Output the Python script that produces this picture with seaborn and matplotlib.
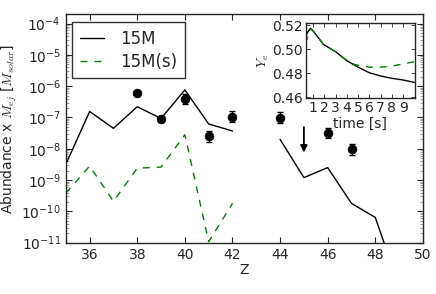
import numpy as np
import pandas as pd
import matplotlib
matplotlib.use("Agg")
import matplotlib.pyplot as plt
import seaborn as sns

# ---- data ----
z_15m = [35, 36, 37, 38, 39, 40, 41, 42, 43, 44, 45, 46, 47, 48, 49]
ab_15m = [3.2e-9, 1.55e-7, 4.5e-8, 2.2e-7, 9.3e-8, 7.6e-7, 6.2e-8, 3.7e-8,
          np.nan, 2.0e-8, 1.2e-9, 2.5e-9, 1.8e-10, 6.4e-11, 4e-13]
z_15ms = [35, 36, 37, 38, 39, 40, 41, 42]
ab_15ms = [3.8e-10, 2.8e-9, 2.1e-10, 2.4e-9, 2.6e-9, 2.8e-8, 1.07e-11, 1.8e-10]

obs_z = [38, 39, 40, 41, 42, 44, 46, 47]
obs_ab = [5.9e-7, 8.9e-8, 3.9e-7, 2.5e-8, 1.07e-7, 9.8e-8, 3.2e-8, 9.5e-9]
obs_err_dex = [0.08, 0.08, 0.15, 0.17, 0.17, 0.17, 0.17, 0.17]

lim_z = 45
lim_top = 4.9e-8
lim_tip = 7.6e-9

t_inset = [0.33, 0.5, 0.77, 1.0, 1.5, 1.9, 3.0, 4.0, 5.0, 6.0, 7.0, 8.0, 9.0, 10.0]
ye_15m = [0.5100, 0.5140, 0.5173, 0.5150, 0.5090, 0.5040, 0.4978, 0.4904,
          0.4850, 0.4804, 0.4777, 0.4758, 0.4744, 0.4724]
t_inset_s = [0.33, 0.5, 0.8, 1.0, 1.5, 1.9, 3.0, 4.0, 4.6, 5.0, 6.0, 7.0, 8.0, 9.0, 10.0]
ye_15ms = [0.5050, 0.5100, 0.5165, 0.5150, 0.5090, 0.5040, 0.4978, 0.4904,
           0.4875, 0.4866, 0.4850, 0.4850, 0.4860, 0.4877, 0.4896]

# ---- style ----
sns.set_style("ticks", {"xtick.direction": "in", "ytick.direction": "in"})
plt.rcParams["font.family"] = ["DejaVu Sans"]
plt.rcParams["mathtext.fontset"] = "cm"
plt.rcParams["xtick.top"] = True
plt.rcParams["ytick.right"] = True
plt.rcParams["axes.linewidth"] = 1.0

fig = plt.figure(figsize=(4.36, 2.94), dpi=100)
ax = fig.add_axes([0.151, 0.1745, 0.819, 0.7775])

# split solid line into segments at NaN
df = pd.DataFrame({"Z": z_15m, "ab": ab_15m})
df["seg"] = df["ab"].isna().cumsum()
df = df.dropna()
first = True
for _, g in df.groupby("seg"):
    sns.lineplot(x=g["Z"], y=g["ab"], ax=ax, color="k", lw=1.0,
                 label="15M" if first else None, legend=False)
    first = False

dfs = pd.DataFrame({"Z": z_15ms, "ab": ab_15ms})
sns.lineplot(data=dfs, x="Z", y="ab", ax=ax, color="g", lw=1.0,
             linestyle=(0, (5, 5)), label="15M(s)", legend=False)

obs_ab_a = np.array(obs_ab)
err = np.array(obs_err_dex)
lower = obs_ab_a - obs_ab_a / 10 ** err
upper = obs_ab_a * 10 ** err - obs_ab_a
ax.errorbar(obs_z, obs_ab_a, yerr=[lower, upper], fmt="none", ecolor="k",
            elinewidth=1.0, capsize=2.5, capthick=1.0)
sns.scatterplot(x=obs_z, y=obs_ab, ax=ax, color="k", s=40, edgecolor="k",
                zorder=5, legend=False)
ax.annotate("", xy=(lim_z, lim_tip), xytext=(lim_z, lim_top),
            arrowprops=dict(arrowstyle="-|>", color="k", lw=1.3,
                            mutation_scale=10, shrinkA=0, shrinkB=0))

ax.set_yscale("log")
ax.set_xlim(35, 50)
ax.set_ylim(1e-11, 2e-4)
ax.set_xticks([36, 38, 40, 42, 44, 46, 48, 50])
ax.set_yticks([1e-11, 1e-10, 1e-9, 1e-8, 1e-7, 1e-6, 1e-5, 1e-4])
ax.tick_params(axis="both", which="major", labelsize=10, length=4, width=0.8,
               direction="in", top=True, right=True)
ax.tick_params(axis="y", which="minor", length=2, width=0.5, direction="in",
               right=True, color="0.5")
ax.set_xlabel("Z", fontsize=10, labelpad=1)
ax.set_ylabel(r"Abundance x $M_{ej}$ [$M_{solar}$]", fontsize=10, labelpad=2)

handles, labels = ax.get_legend_handles_labels()
leg = ax.legend(handles, labels, loc="upper left", fontsize=12,
                frameon=True, fancybox=False, edgecolor="k",
                handlelength=1.45, handletextpad=1.0, borderpad=0.45,
                labelspacing=0.3, borderaxespad=0,
                bbox_to_anchor=(0.018, 0.964))
leg.get_frame().set_linewidth(1.0)

# ---- inset ----
ax2 = fig.add_axes([0.701, 0.6656, 0.2507, 0.255])
sns.lineplot(x=t_inset, y=ye_15m, ax=ax2, color="k", lw=1.0)
sns.lineplot(x=t_inset_s, y=ye_15ms, ax=ax2, color="g", lw=1.0,
             linestyle=(0, (5, 5)))
ax2.set_xlim(0.33, 10.05)
ax2.set_ylim(0.4592, 0.5214)
ax2.set_xticks(range(1, 10))
ax2.set_yticks([0.46, 0.48, 0.50, 0.52])
ax2.set_yticklabels(["0.46", "0.48", "0.50", "0.52"])
ax2.tick_params(axis="both", labelsize=10, length=3, width=0.6,
                direction="in", top=True, right=True, pad=2)
ax2.set_xlabel("time [s]", fontsize=10, labelpad=1)
ax2.set_ylabel(r"$Y_e$", fontsize=10, labelpad=1)

fig.savefig("out.png", dpi=100)
